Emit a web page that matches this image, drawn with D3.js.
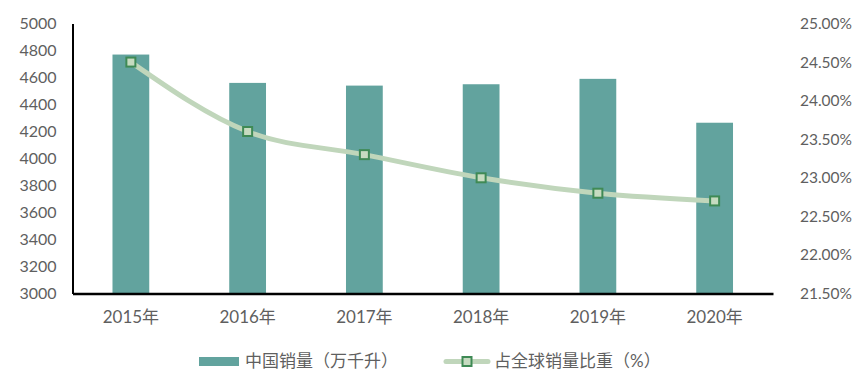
<!DOCTYPE html>
<html><head><meta charset="utf-8">
<script src="https://cdn.jsdelivr.net/npm/d3@7"></script>
<style>body{margin:0;background:#fff}svg{display:block}text{font-family:"Century Gothic","Lato","Noto Sans CJK SC",sans-serif}</style>
</head><body><svg id="c" width="866" height="392"></svg>
<script>
const categories = ["2015年","2016年","2017年","2018年","2019年","2020年"];
const sales = [4770, 4560, 4540, 4550, 4590, 4265];
const share = [24.5, 23.6, 23.3, 23.0, 22.8, 22.7];
const leftTicks = [3000,3200,3400,3600,3800,4000,4200,4400,4600,4800,5000];
const rightTicks = [21.5,22.0,22.5,23.0,23.5,24.0,24.5,25.0];
const legendLabels = ["中国销量（万千升）","占全球销量比重（%）"];

const svg = d3.select("#c");
const L = 72.5, R = 773, T = 23.5, B = 293.5;
const x = d3.scaleBand().domain(categories).range([L, R]).paddingInner(0.685).paddingOuter(0.3425);
const y = d3.scaleLinear().domain([3000, 5000]).range([B, T]);
const y2 = d3.scaleLinear().domain([21.5, 25]).range([B, T]);
const barColor = "#62a39e", lineColor = "#c0d6bb", mFill = "#c6dbc0", mStroke = "#3f8a55", txt = "#5f5f5f";

svg.selectAll("rect.bar").data(sales).join("rect").attr("class","bar")
  .attr("x",(d,i)=>x(categories[i])).attr("width",x.bandwidth())
  .attr("y",d=>y(d)).attr("height",d=>B-y(d)).attr("fill",barColor);

// left axis
const ga = svg.append("g").attr("transform",`translate(${L},0)`)
  .call(d3.axisLeft(y).tickValues(leftTicks).tickSize(0).tickPadding(16).tickFormat(d3.format("d")));
ga.select(".domain").attr("stroke","#000").attr("stroke-width",2);
ga.selectAll("text").attr("fill",txt).attr("font-size",16);

// right axis labels
const gr = svg.append("g").attr("transform",`translate(852,0)`)
  .call(d3.axisLeft(y2).tickValues(rightTicks).tickSize(0).tickPadding(0).tickFormat(d=>d.toFixed(2)+"%"));
gr.select(".domain").remove();
gr.selectAll("text").attr("fill",txt).attr("font-size",15.5);

// bottom axis
const gb = svg.append("g").attr("transform",`translate(0,${B})`)
  .call(d3.axisBottom(x).tickSize(0).tickPadding(17));
gb.select(".domain").attr("stroke","#000").attr("stroke-width",2.5);
gb.selectAll("text").attr("fill",txt).attr("font-size",17);

// line
const pts = share.map((v,i)=>[x(categories[i])+x.bandwidth()/2, y2(v)]);
svg.append("path").attr("d", d3.line().curve(d3.curveMonotoneX)(pts))
  .attr("fill","none").attr("stroke",lineColor).attr("stroke-width",5).attr("stroke-linecap","round");
svg.selectAll("rect.m").data(pts).join("rect").attr("class","m")
  .attr("x",d=>d[0]-4.5).attr("y",d=>d[1]-4.5).attr("width",9).attr("height",9)
  .attr("fill",mFill).attr("stroke",mStroke).attr("stroke-width",2);

// legend
const ly = 361.5;
svg.append("rect").attr("x",199).attr("y",357).attr("width",40).attr("height",9).attr("fill",barColor);
svg.append("text").attr("x",245).attr("y",ly).attr("dy","0.35em").attr("fill",txt).attr("font-size",17).text(legendLabels[0]);
svg.append("line").attr("x1",446).attr("x2",488).attr("y1",ly).attr("y2",ly).attr("stroke",lineColor).attr("stroke-width",5).attr("stroke-linecap","round");
svg.append("rect").attr("x",462.5).attr("y",ly-4.5).attr("width",9).attr("height",9).attr("fill",mFill).attr("stroke",mStroke).attr("stroke-width",2);
svg.append("text").attr("x",494).attr("y",ly).attr("dy","0.35em").attr("fill",txt).attr("font-size",17).text(legendLabels[1]);
</script></body></html>
